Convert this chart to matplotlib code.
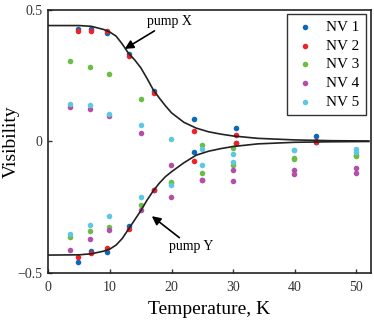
import numpy as np
import matplotlib
matplotlib.use("Agg")
import matplotlib.pyplot as plt

plt.rcParams['font.family'] = ['Liberation Serif', 'DejaVu Serif']
plt.rcParams['mathtext.fontset'] = 'stix'

# --- measured visibility, two pumps per NV ---
T_a = [4.9, 6.9, 9.5, 13.1, 17.1, 23.7, 30.4, 43.4]          # NV 1, NV 2
T_b = [3.6, 6.8, 9.9, 15.0, 19.9, 25.0, 30.0, 39.9, 50.0]    # NV 3 - NV 5

nv1_x = [0.425, 0.428, 0.41, 0.33, 0.19, 0.083, 0.049, 0.020]
nv1_y = [-0.459, -0.418, -0.422, -0.323, -0.186, -0.040, -0.006, -0.004]
nv2_x = [0.421, 0.421, 0.418, 0.323, 0.184, 0.039, 0.023, 0.001]
nv2_y = [-0.440, -0.424, -0.405, -0.332, -0.184, -0.076, -0.006, -0.004]
nv3_x = [0.307, 0.281, 0.256, 0.161, -0.156, -0.016, -0.025, -0.065, -0.053]
nv3_y = [-0.364, -0.340, -0.326, -0.243, -0.158, -0.120, -0.090, -0.067, -0.055]
nv4_x = [0.132, 0.123, 0.095, 0.032, -0.089, -0.148, -0.110, -0.108, -0.102]
nv4_y = [-0.412, -0.370, -0.336, -0.260, -0.213, -0.148, -0.152, -0.123, -0.120]
nv5_x = [0.140, 0.136, 0.103, 0.063, 0.009, -0.029, -0.047, -0.032, -0.028]
nv5_y = [-0.354, -0.318, -0.283, -0.213, -0.165, -0.092, -0.078, -0.032, -0.040]

# --- fitted curves ---
fit_T = [0, 5, 7, 9, 10, 11, 12, 13, 14, 15, 16, 17, 18, 19, 20,
         22, 24, 26, 28, 30, 34, 40, 46, 52]
fit_X = [0.44, 0.44, 0.437, 0.425, 0.415, 0.40, 0.37, 0.335, 0.31, 0.28,
         0.24, 0.197, 0.165, 0.135, 0.108, 0.072, 0.05, 0.036, 0.027,
         0.02, 0.011, 0.005, 0.002, 0.001]
fit_Y = [-0.433, -0.432, -0.428, -0.418, -0.41, -0.395, -0.37, -0.335,
         -0.30, -0.265, -0.225, -0.19, -0.16, -0.135, -0.116, -0.082,
         -0.053, -0.038, -0.028, -0.02, -0.01, -0.004, -0.002, -0.001]

labels = ['NV 1', 'NV 2', 'NV 3', 'NV 4', 'NV 5']
colors = ['#0a6ab8', '#ee2229', '#6cbd45', '#b34fa8', '#5ec8e2']

fig = plt.figure(figsize=(3.74, 3.26), dpi=100)
ax = fig.add_axes([0.129, 0.1635, 0.862, 0.8065])

series = [(T_a, nv1_x, nv1_y), (T_a, nv2_x, nv2_y), (T_b, nv3_x, nv3_y),
          (T_b, nv4_x, nv4_y), (T_b, nv5_x, nv5_y)]
for (t, vx, vy), lab, c in zip(series, labels, colors):
    ax.scatter(t, vx, s=16, color=c, linewidths=0, label=lab, zorder=3)
    ax.scatter(t, vy, s=16, color=c, linewidths=0, zorder=3)

ax.plot(fit_T, fit_X, color='#222222', lw=1.2, zorder=4)
ax.plot(fit_T, fit_Y, color='#222222', lw=1.2, zorder=4)

arrow = dict(arrowstyle='-|>', color='black', lw=1.2, mutation_scale=13,
             shrinkA=0, shrinkB=0)
ax.annotate('pump X', xy=(12.4, 0.351), xytext=(19.7, 0.455),
            ha='center', va='center', fontsize=10, arrowprops=arrow)
ax.annotate('pump Y', xy=(16.8, -0.285), xytext=(23.2, -0.402),
            ha='center', va='center', fontsize=10, arrowprops=arrow)

ax.set_xlim(0, 52.3)
ax.set_ylim(-0.5, 0.5)
ax.set_xticks([0, 10, 20, 30, 40, 50])
ax.set_yticks([-0.5, 0, 0.5])
ax.set_yticklabels(['\u22120.5', '0', '0.5'])
ax.tick_params(direction='in', length=3, width=1, labelsize=10, colors='#333333',
               labelcolor='#333333')
ax.tick_params(axis='x', pad=6)
ax.tick_params(axis='y', pad=4)
for s in ax.spines.values():
    s.set_linewidth(1.2)
    s.set_color('#222222')

ax.set_xlabel('Temperature, K', fontsize=14, labelpad=5)
ax.set_ylabel('Visibility', fontsize=14)
ax.yaxis.set_label_coords(-0.088, 0.5)

leg = ax.legend(loc='upper right', bbox_to_anchor=(0.9845, 0.984), fontsize=11,
                frameon=True, fancybox=False, edgecolor='black',
                handletextpad=0.6, borderpad=0.4, labelspacing=0.33,
                handlelength=1.6, scatterpoints=1, borderaxespad=0)
leg.get_frame().set_linewidth(1.0)

fig.savefig('out.png', dpi=100)
